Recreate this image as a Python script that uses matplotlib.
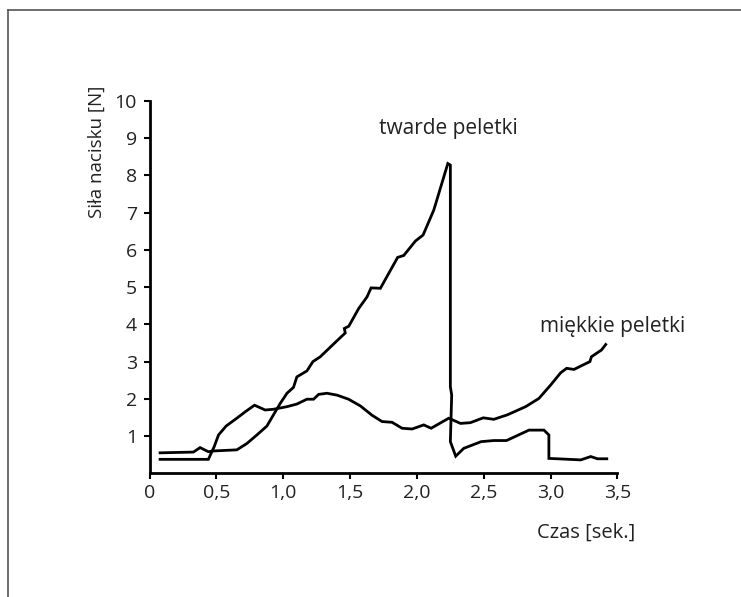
import matplotlib
matplotlib.use("Agg")
import matplotlib.pyplot as plt
from matplotlib.lines import Line2D
from matplotlib.ticker import FuncFormatter

# Hard pellets (twarde peletki)
hard_x = [0.079, 0.328, 0.378, 0.44, 0.478, 0.653, 0.728, 0.803, 0.878, 0.94, 0.978,
          1.028, 1.077, 1.102, 1.177, 1.222, 1.277, 1.402, 1.464, 1.457, 1.49, 1.565,
          1.627, 1.657, 1.727, 1.789, 1.856, 1.901, 1.989, 2.046, 2.126, 2.231, 2.25,
          2.25, 2.26, 2.25, 2.29, 2.35, 2.48, 2.575, 2.67, 2.838, 2.95, 2.987, 2.987,
          3.05, 3.225, 3.30, 3.35, 3.42]
hard_y = [0.55, 0.57, 0.69, 0.58, 0.60, 0.63, 0.80, 1.03, 1.27, 1.65, 1.88,
          2.15, 2.31, 2.59, 2.75, 3.0, 3.13, 3.56, 3.77, 3.89, 3.95, 4.43,
          4.74, 4.98, 4.97, 5.37, 5.80, 5.85, 6.24, 6.40, 7.07, 8.32, 8.28,
          2.33, 2.10, 0.85, 0.46, 0.67, 0.85, 0.88, 0.88, 1.16, 1.16, 1.03, 0.40,
          0.39, 0.36, 0.45, 0.39, 0.39]

# Soft pellets (miękkie peletki)
soft_x = [0.079, 0.44, 0.483, 0.516, 0.573, 0.653, 0.715, 0.785, 0.865, 0.927, 1.028,
          1.102, 1.177, 1.227, 1.265, 1.327, 1.402, 1.489, 1.577, 1.664, 1.739, 1.814,
          1.889, 1.964, 2.051, 2.106, 2.238, 2.326, 2.40, 2.496, 2.575, 2.676, 2.813,
          2.912, 3.0, 3.075, 3.12, 3.175, 3.225, 3.294, 3.305, 3.35, 3.38, 3.412]
soft_y = [0.375, 0.375, 0.71, 1.03, 1.27, 1.48, 1.65, 1.83, 1.70, 1.72, 1.79,
          1.86, 1.99, 1.99, 2.12, 2.15, 2.10, 1.99, 1.81, 1.56, 1.39, 1.37,
          1.21, 1.19, 1.30, 1.21, 1.48, 1.34, 1.36, 1.49, 1.45, 1.57, 1.79,
          2.01, 2.37, 2.70, 2.82, 2.79, 2.88, 3.0, 3.13, 3.24, 3.31, 3.46]

x_ticks = [0, 0.5, 1.0, 1.5, 2.0, 2.5, 3.0, 3.5]
y_ticks = [1, 2, 3, 4, 5, 6, 7, 8, 9, 10]

plt.rcParams['font.family'] = ['Open Sans', 'DejaVu Sans']
FS_TICK = 14
FS_LAB = 13.5
FS_ANN = 15
TXT = '#222222'

fig = plt.figure(figsize=(7.41, 5.97), dpi=100)
ax = fig.add_axes([0.2018, 0.2072, 0.6315, 0.6236])

ax.plot(hard_x, hard_y, color='black', lw=2.0, solid_joinstyle='miter')
ax.plot(soft_x, soft_y, color='black', lw=2.0, solid_joinstyle='miter')

ax.set_xlim(0, 3.5)
ax.set_ylim(0, 10)
ax.set_xticks(x_ticks)
ax.set_yticks(y_ticks)

def fmt(v, pos):
    if abs(v) < 1e-9:
        return '0'
    return f'{v:.1f}'.replace('.', ',')

ax.xaxis.set_major_formatter(FuncFormatter(fmt))
ax.tick_params(axis='both', direction='out', length=4, width=1.5, labelsize=FS_TICK,
               colors='black', labelcolor=TXT)
ax.tick_params(axis='x', pad=4)
ax.tick_params(axis='y', pad=5)
for s in ['top', 'right']:
    ax.spines[s].set_visible(False)
for s in ['left', 'bottom']:
    ax.spines[s].set_linewidth(2.0)

ax.text(1.714, 9.27, 'twarde peletki', fontsize=FS_ANN, color=TXT, ha='left', va='center')
ax.text(2.92, 3.94, 'miękkie peletki', fontsize=FS_ANN, color=TXT, ha='left', va='center')

fig.text(635 / 741, 1 - 533 / 597, 'Czas [sek.]', fontsize=14.5, color=TXT,
         ha='right', va='center')
fig.text(97 / 741, 1 - 152 / 597, 'Siła nacisku [N]', fontsize=FS_LAB, color=TXT,
         ha='center', va='center', rotation=90)

# outer frame
fig.add_artist(Line2D([8 / 741, 1.0], [1 - 9.5 / 597] * 2, transform=fig.transFigure,
                      color='#555555', lw=1.2))
fig.add_artist(Line2D([8 / 741] * 2, [0, 1 - 9.5 / 597], transform=fig.transFigure,
                      color='#555555', lw=1.2))

fig.savefig('out.png', dpi=100)
